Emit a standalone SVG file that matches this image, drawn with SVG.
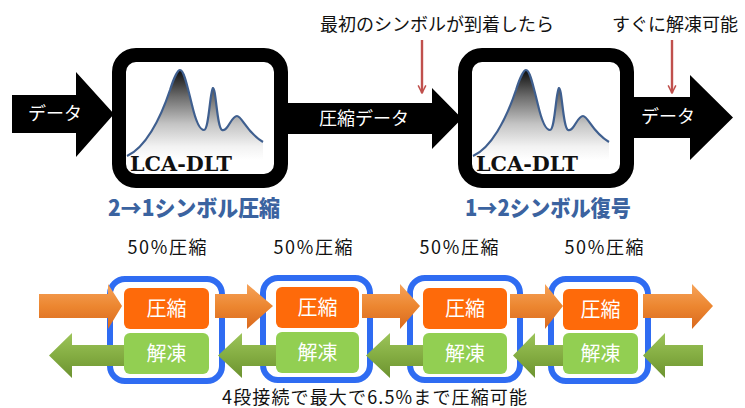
<svg xmlns="http://www.w3.org/2000/svg" width="745" height="408" viewBox="0 0 745 408">
  <defs>
    <linearGradient id="peakFill" gradientUnits="userSpaceOnUse" x1="0" y1="70" x2="0" y2="160">
      <stop offset="0" stop-color="#0c0c0c"/>
      <stop offset="0.3" stop-color="#6e6e6e"/>
      <stop offset="0.6" stop-color="#c4c4c4"/>
      <stop offset="0.85" stop-color="#f2f2f2"/>
      <stop offset="1" stop-color="#fff"/>
    </linearGradient>
    <linearGradient id="orangeGrad" x1="0" y1="0" x2="0" y2="1">
      <stop offset="0" stop-color="#f6a35a"/>
      <stop offset="0.5" stop-color="#ec8630"/>
      <stop offset="1" stop-color="#d9691e"/>
    </linearGradient>
    <linearGradient id="greenGrad" x1="0" y1="0" x2="0" y2="1">
      <stop offset="0" stop-color="#9cc45a"/>
      <stop offset="0.5" stop-color="#84ad42"/>
      <stop offset="1" stop-color="#6c9230"/>
    </linearGradient>
    <marker id="redHead" viewBox="0 0 10 10" refX="9" refY="5" markerWidth="4" markerHeight="5" orient="auto" markerUnits="strokeWidth">
      <path d="M1,1 L9,5 L1,9" fill="none" stroke="#c0504d" stroke-width="1.6"/>
    </marker>
    <!-- spectrum logo drawn inside each LCA-DLT box -->
    <g id="spectrum">
      <path d="M127,156 C145,148 160,120 170,90 C174,77 178,70 180,70 C184,70 187,85 192,105 C196,122 200,130 204,130 C209,130 210,90 213,88 C216,88 217,128 222,130 C228,132 231,116 237,116 C242,116 246,132 263,142 L263,160 L127,160 Z" fill="url(#peakFill)"/>
      <path d="M127,156 C145,148 160,120 170,90 C174,77 178,70 180,70 C184,70 187,85 192,105 C196,122 200,130 204,130 C209,130 210,90 213,88 C216,88 217,128 222,130 C228,132 231,116 237,116 C242,116 246,132 263,142" fill="none" stroke="#3f5f8f" stroke-width="2.2"/>
    </g>
  </defs>
  <style>
    .jp { font-family: "Noto Sans CJK JP", "Noto Sans", sans-serif; }
    .blackbox { fill: #fff; stroke: #000; stroke-width: 14; }
    .logo { font-family: "DejaVu Serif", "Liberation Serif", serif; font-weight: bold; font-size: 21px; fill: #111; }
    .title { font-family: "Noto Sans CJK JP", sans-serif; font-weight: 900; font-size: 22px; fill: #3b63a0; }
    .wlabel { font-size: 18px; fill: #fff; }
    .klabel { font-size: 18px; fill: #111; }
    .frame { fill: #fff; stroke: #2f6cf2; stroke-width: 6; }
    .comp { fill: #fe6a0a; }
    .decomp { fill: #92cf52; }
    .inner { font-size: 20px; fill: #fff; }
    .pct { font-size: 18px; fill: #111; }
    .red { stroke: #c0504d; stroke-width: 2.4; fill: none; }
  </style>

  <!-- top pipeline: black arrows -->
  <g id="connectors-top">
    <polygon points="12,95 76,95 76,72 114,114 76,157 76,133 12,133" fill="#000"/>
    <polygon points="285,103 432,103 432,88 462,118.5 432,149 432,134 285,134" fill="#000"/>
    <polygon points="630,97 690,97 690,75 733,117.5 690,160 690,138 630,138" fill="#000"/>
    <text class="jp wlabel" x="55" y="120" text-anchor="middle">データ</text>
    <text class="jp wlabel" x="364" y="125" text-anchor="middle">圧縮データ</text>
    <text class="jp wlabel" x="668" y="123" text-anchor="middle">データ</text>
    <line class="red" x1="422" y1="40" x2="422" y2="93" marker-end="url(#redHead)"/>
    <line class="red" x1="672" y1="40" x2="672" y2="93" marker-end="url(#redHead)"/>
  </g>

  <text class="jp klabel" x="437" y="31" text-anchor="middle">最初のシンボルが到着したら</text>
  <text class="jp klabel" x="675" y="31" text-anchor="middle">すぐに解凍可能</text>

  <g id="encoder">
    <rect class="blackbox" x="119" y="55" width="162" height="126" rx="17"/>
    <use href="#spectrum"/>
    <text class="logo" x="181" y="171" text-anchor="middle" textLength="102" lengthAdjust="spacingAndGlyphs">LCA-DLT</text>
    <text class="title" x="194" y="216" text-anchor="middle" textLength="172" lengthAdjust="spacingAndGlyphs">2→1シンボル圧縮</text>
  </g>

  <g id="decoder">
    <rect class="blackbox" x="465" y="55" width="162" height="126" rx="17"/>
    <use href="#spectrum" x="346"/>
    <text class="logo" x="527" y="171" text-anchor="middle" textLength="102" lengthAdjust="spacingAndGlyphs">LCA-DLT</text>
    <text class="title" x="548" y="216" text-anchor="middle" textLength="166" lengthAdjust="spacingAndGlyphs">1→2シンボル復号</text>
  </g>

  <!-- bottom chain: stage frames -->
  <g id="frames">
    <rect class="frame" x="110" y="279" width="112" height="102" rx="15"/>
    <rect class="frame" x="263" y="278" width="107" height="102" rx="15"/>
    <rect class="frame" x="410" y="278" width="110" height="102" rx="15"/>
    <rect class="frame" x="551" y="279" width="97" height="102" rx="15"/>
  </g>

  <g id="connectors-bottom">
    <!-- compression direction -->
    <polygon points="39,294 108,294 108,284 122,306 108,329 108,318 39,318" fill="url(#orangeGrad)"/>
    <polygon points="215,294 247,294 247,284 273,306 247,329 247,318 215,318" fill="url(#orangeGrad)"/>
    <polygon points="362,294 400,294 400,284 420,306 400,329 400,318 362,318" fill="url(#orangeGrad)"/>
    <polygon points="510,294 545,294 545,284 563,306 545,329 545,318 510,318" fill="url(#orangeGrad)"/>
    <polygon points="643,294 692,294 692,284 713,306 692,329 692,318 643,318" fill="url(#orangeGrad)"/>
    <!-- decompression direction -->
    <polygon points="125,345 72,345 72,333 49,355.5 72,378 72,366 125,366" fill="url(#greenGrad)"/>
    <polygon points="280,345 242,345 242,333 218,355.5 242,378 242,366 280,366" fill="url(#greenGrad)"/>
    <polygon points="425,345 390,345 390,333 366,355.5 390,378 390,366 425,366" fill="url(#greenGrad)"/>
    <polygon points="567,345 535,345 535,333 513,355.5 535,378 535,366 567,366" fill="url(#greenGrad)"/>
    <polygon points="703,345 665,345 665,333 643,355.5 665,378 665,366 703,366" fill="url(#greenGrad)"/>
  </g>

  <g id="stage1">
    <text class="jp pct" x="167" y="254" text-anchor="middle" textLength="79" lengthAdjust="spacing">50%圧縮</text>
    <rect class="comp" x="124" y="288" width="85" height="41" rx="6"/>
    <text class="jp inner" x="166.5" y="315.5" text-anchor="middle">圧縮</text>
    <rect class="decomp" x="124" y="333" width="85" height="41" rx="6"/>
    <text class="jp inner" x="166.5" y="360.5" text-anchor="middle">解凍</text>
  </g>
  <g id="stage2">
    <text class="jp pct" x="313" y="254" text-anchor="middle" textLength="79" lengthAdjust="spacing">50%圧縮</text>
    <rect class="comp" x="276" y="287" width="83" height="41" rx="6"/>
    <text class="jp inner" x="317.5" y="314.5" text-anchor="middle">圧縮</text>
    <rect class="decomp" x="276" y="332" width="83" height="41" rx="6"/>
    <text class="jp inner" x="317.5" y="359.5" text-anchor="middle">解凍</text>
  </g>
  <g id="stage3">
    <text class="jp pct" x="459" y="254" text-anchor="middle" textLength="79" lengthAdjust="spacing">50%圧縮</text>
    <rect class="comp" x="423" y="288" width="84" height="41" rx="6"/>
    <text class="jp inner" x="465" y="315.5" text-anchor="middle">圧縮</text>
    <rect class="decomp" x="423" y="333" width="84" height="41" rx="6"/>
    <text class="jp inner" x="465" y="360.5" text-anchor="middle">解凍</text>
  </g>
  <g id="stage4">
    <text class="jp pct" x="604" y="254" text-anchor="middle" textLength="79" lengthAdjust="spacing">50%圧縮</text>
    <rect class="comp" x="563" y="289" width="75" height="41" rx="6"/>
    <text class="jp inner" x="600.5" y="316.5" text-anchor="middle">圧縮</text>
    <rect class="decomp" x="563" y="333" width="75" height="41" rx="6"/>
    <text class="jp inner" x="600.5" y="360.5" text-anchor="middle">解凍</text>
  </g>

  <text class="jp" x="374.5" y="404" text-anchor="middle" font-size="18" fill="#111" textLength="305" lengthAdjust="spacing">4段接続で最大で6.5%まで圧縮可能</text>
</svg>
